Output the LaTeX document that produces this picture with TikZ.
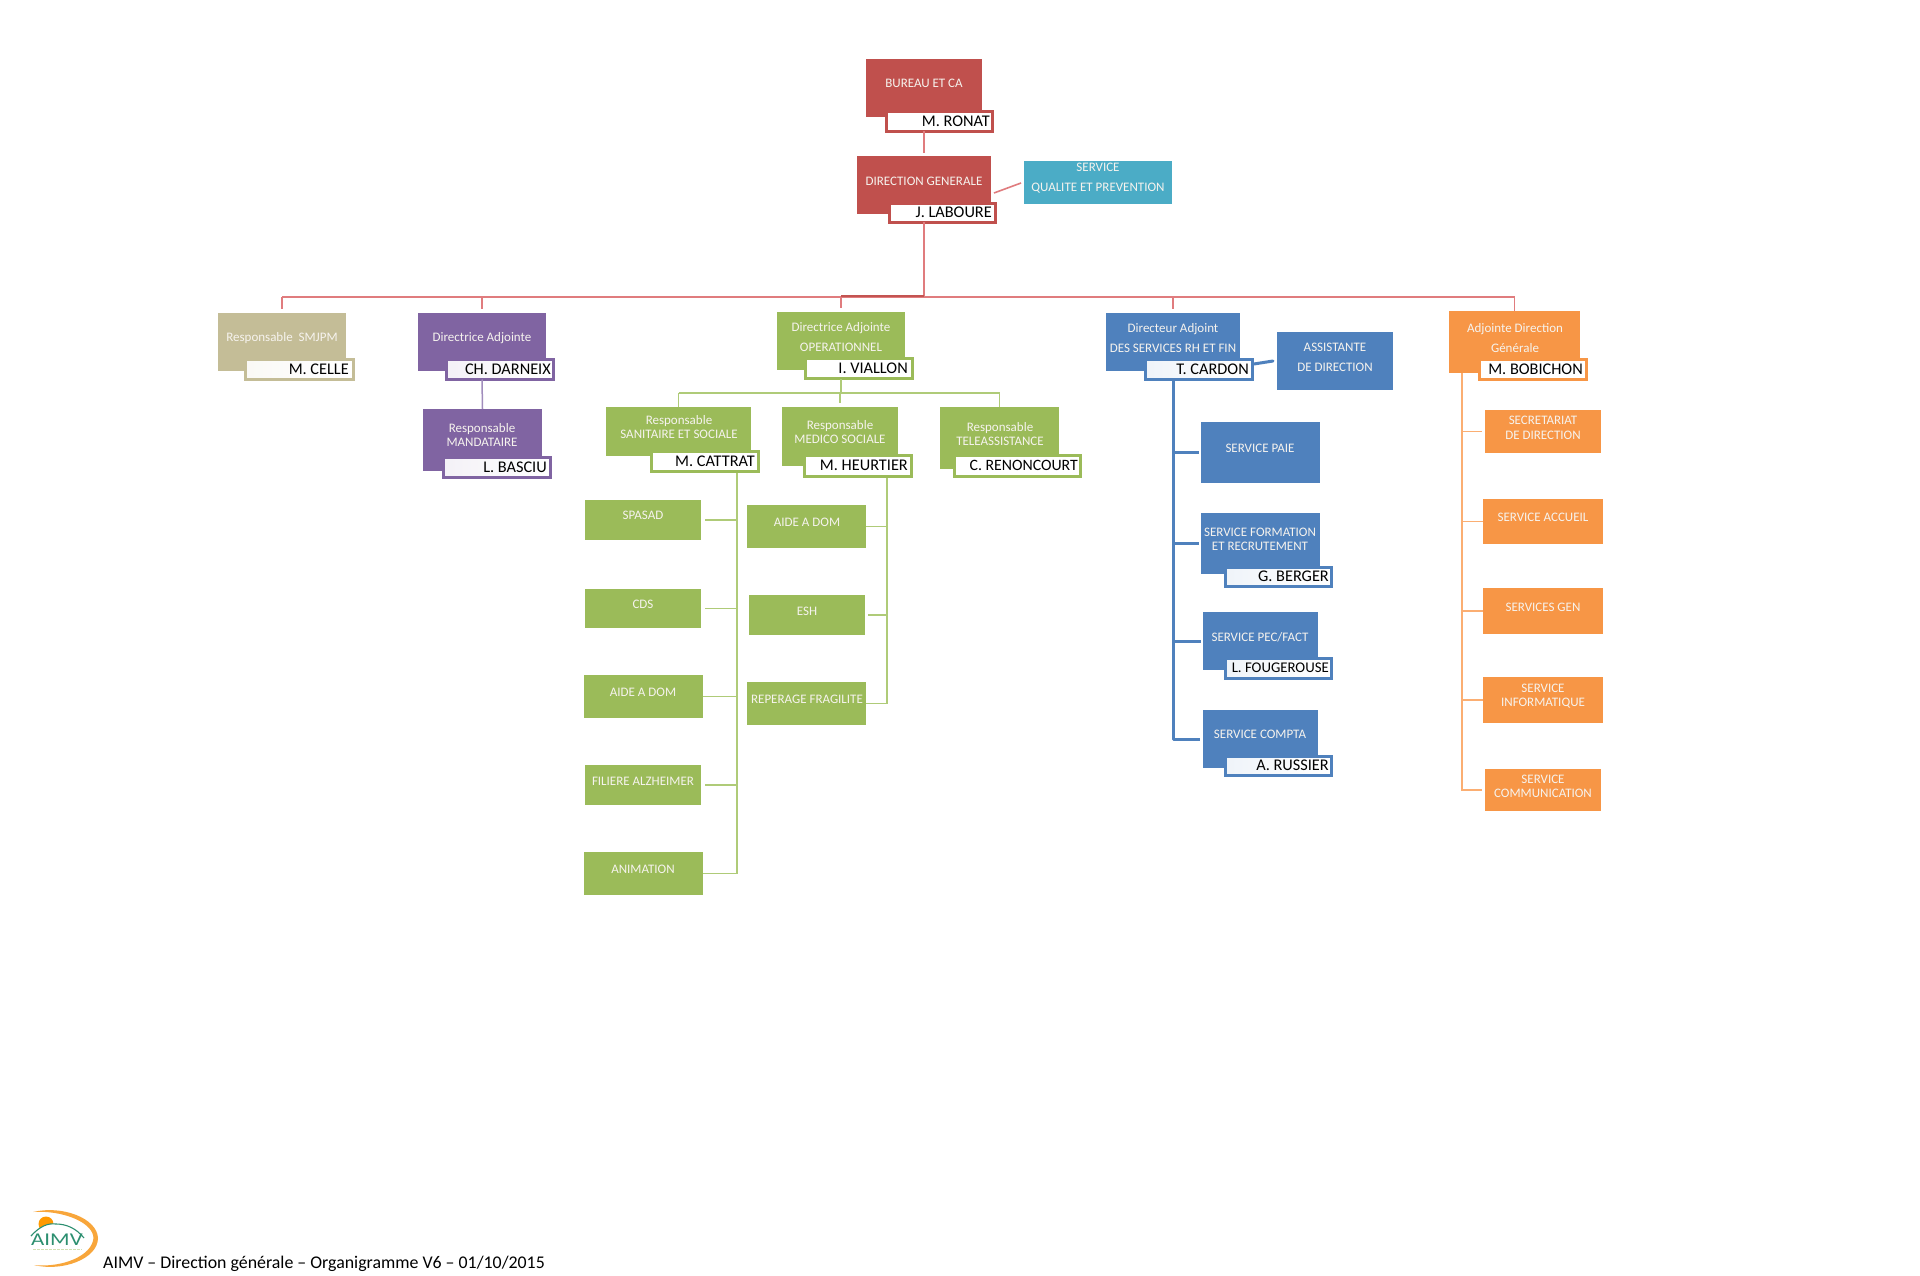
\documentclass[tikz,border=0pt]{standalone}
\usepackage{fontspec}
\setmainfont{Carlito}
\usetikzlibrary{calc}
\definecolor{cred}{HTML}{C0504D}
\definecolor{cteal}{HTML}{4BACC6}
\definecolor{ctan}{HTML}{C4BD97}
\definecolor{cpurple}{HTML}{8064A2}
\definecolor{cgreen}{HTML}{9BBB59}
\definecolor{cblue}{HTML}{4F81BD}
\definecolor{corange}{HTML}{F79646}
\definecolor{lred}{HTML}{E07C7E}
\definecolor{lgreen}{HTML}{AFCB78}
\definecolor{lorange}{HTML}{FBAE72}
\definecolor{lpurple}{HTML}{A08CBC}
\definecolor{txt}{HTML}{F6F3EE}
\definecolor{logog}{HTML}{2C8F70}
\tikzset{
  x=1pt,y=-1pt,
  boxs/.style={fill=#1,draw=none,inner sep=0pt,outer sep=0pt},
  labs/.style={text=txt,font=\fontsize{13}{14.5}\selectfont,align=center,inner sep=0pt,yshift=-0.2pt},
  nameb/.style={draw=#1,line width=3pt,fill=white,inner sep=0pt,outer sep=0pt},
  tintb/.style={draw=#1,line width=3pt,left color=#1!9!white,right color=white,inner sep=0pt,outer sep=0pt},
  namet/.style={text=black,font=\fontsize{16.3}{18}\selectfont,inner sep=0pt,anchor=east},
  redl/.style={draw=lred,line width=1.6pt},
  grnl/.style={draw=lgreen,line width=1.5pt},
  orgl/.style={draw=lorange,line width=1.5pt},
  purl/.style={draw=lpurple,line width=1.5pt},
  blul/.style={draw=cblue,line width=3pt},
}
% name, colour, x0,y0,x1,y1, text cx, text cy, text
\newcommand\bxn[9]{%
  \node[boxs=#2,minimum width={(#5-#3)*1pt},minimum height={(#6-#4)*1pt}] (#1) at ({(#3+#5)/2},{(#4+#6)/2}) {};
  \node[labs] (#1-t) at (#7,#8) {#9};}
% name, style, colour, x0,y0,x1,y1, right of text
\newcommand\nmb[9]{%
  \node[#2=#3,minimum width={(#6-#4-3)*1pt},minimum height={(#7-#5-3)*1pt}] (#1) at ({(#4+#6)/2},{(#5+#7)/2}) {};
  \node[namet] (#1-t) at (#8,{(#5+#7)/2-0.5}) {#9};}
\begin{document}
\begin{tikzpicture}
\useasboundingbox (0,0) rectangle (1920,1276);
\fill[white] (0,0) rectangle (1920,1276);

% coordinates for free ends
\coordinate (bus) at (924,297);
\coordinate (gbus) at (841,393);
\coordinate (vc) at (737,473);
\coordinate (vh) at (887,478);
\coordinate (ov) at (1462,373);
\coordinate (qa) at (994,193);
\coordinate (qb) at (1021,183);
\coordinate (aa) at (1254,364);
\coordinate (ab) at (1273,361);

% boxes
\bxn{bureau}{cred}{866}{59}{982}{117}{924}{83}{BUREAU ET CA}
\bxn{dg}{cred}{857}{156}{991}{214}{924}{181}{DIRECTION GENERALE}
\bxn{qual}{cteal}{1024}{161}{1172}{204}{1098}{178}{SERVICE\\[5.5pt]QUALITE ET PREVENTION}
\bxn{smjpm}{ctan}{218}{313}{346}{371}{282}{338}{Responsable\ \ SMJPM}
\bxn{darneix}{cpurple}{418}{313}{546}{371}{482}{338}{Directrice Adjointe}
\bxn{mand}{cpurple}{423}{409}{542}{471}{482}{435}{Responsable\\MANDATAIRE}
\bxn{viallon}{cgreen}{777}{312}{905}{370}{841}{337}{Directrice Adjointe\\[5.5pt]OPERATIONNEL}
\bxn{cattrat}{cgreen}{606}{407}{751}{456}{679}{427}{Responsable\\SANITAIRE ET SOCIALE}
\bxn{heurtier}{cgreen}{782}{407}{898}{466}{840}{432}{Responsable\\MEDICO SOCIALE}
\bxn{renon}{cgreen}{940}{407}{1059}{469}{1000}{434}{Responsable\\TELEASSISTANCE}
\bxn{spasad}{cgreen}{585}{500}{701}{540}{643}{515}{SPASAD}
\bxn{cds}{cgreen}{585}{589}{701}{628}{643}{604}{CDS}
\bxn{aidel}{cgreen}{584}{675}{703}{718}{643}{692}{AIDE A DOM}
\bxn{fil}{cgreen}{585}{765}{701}{805}{643}{781}{FILIERE ALZHEIMER}
\bxn{anim}{cgreen}{584}{852}{703}{895}{643}{869}{ANIMATION}
\bxn{aider}{cgreen}{747}{505}{866}{548}{807}{522}{AIDE A DOM}
\bxn{esh}{cgreen}{749}{595}{865}{635}{807}{611}{ESH}
\bxn{rep}{cgreen}{747}{682}{866}{725}{807}{699}{REPERAGE FRAGILITE}
\bxn{cardon}{cblue}{1106}{313}{1240}{371}{1173}{338}{Directeur Adjoint\\[5.5pt]DES SERVICES RH ET FIN}
\bxn{assist}{cblue}{1277}{332}{1393}{390}{1335}{357}{ASSISTANTE\\[5.5pt]DE DIRECTION}
\bxn{paie}{cblue}{1201}{422}{1320}{483}{1260}{448}{SERVICE PAIE}
\bxn{form}{cblue}{1201}{513}{1320}{574}{1260}{539}{SERVICE FORMATION\\ET RECRUTEMENT}
\bxn{pec}{cblue}{1203}{612}{1318}{670}{1260}{637}{SERVICE PEC/FACT}
\bxn{compta}{cblue}{1203}{710}{1318}{768}{1260}{734}{SERVICE COMPTA}
\bxn{bob}{corange}{1449}{311}{1580}{373}{1515}{338}{Adjointe Direction\\[5.5pt]Générale}
\bxn{secr}{corange}{1485}{410}{1601}{453}{1543}{427.5}{SECRETARIAT\\DE DIRECTION}
\bxn{acc}{corange}{1483}{499}{1603}{544}{1543}{517}{SERVICE ACCUEIL}
\bxn{gen}{corange}{1483}{588}{1603}{634}{1543}{607}{SERVICES GEN}
\bxn{info}{corange}{1483}{677}{1603}{723}{1543}{696}{SERVICE\\INFORMATIQUE}
\bxn{comm}{corange}{1485}{769}{1601}{811}{1543}{786}{SERVICE\\COMMUNICATION}

% name boxes
\nmb{ronat}{nameb}{cred}{885}{110}{994}{133}{990}{M. RONAT}
\nmb{laboure}{nameb}{cred}{888}{202}{997}{224}{992}{J. LABOURE}
\nmb{celle}{tintb}{ctan}{244}{358}{355}{381}{349}{M. CELLE}
\nmb{ndarneix}{tintb}{cpurple}{445}{358}{555}{381}{551}{CH. DARNEIX}
\nmb{basciu}{tintb}{cpurple}{442}{456}{552}{479}{547}{L. BASCIU}
\nmb{nviallon}{nameb}{cgreen}{804}{357}{914}{380}{908}{I. VIALLON}
\nmb{ncattrat}{nameb}{cgreen}{650}{450}{760}{473}{755}{M. CATTRAT}
\nmb{nheurtier}{nameb}{cgreen}{803}{454}{913}{478}{908}{M. HEURTIER}
\nmb{nrenon}{nameb}{cgreen}{953}{454}{1082}{478}{1078}{{\fontsize{15.8}{18}\selectfont C. RENONCOURT}}
\nmb{ncardon}{tintb}{cblue}{1144}{358}{1254}{381}{1249}{T. CARDON}
\nmb{berger}{tintb}{cblue}{1224}{566}{1333}{588}{1329}{G. BERGER}
\nmb{foug}{tintb}{cblue}{1224}{657}{1333}{680}{1329}{{\fontsize{14.8}{18}\selectfont L. FOUGEROUSE}}
\nmb{russier}{tintb}{cblue}{1224}{755}{1333}{777}{1329}{A. RUSSIER}
\nmb{nbob}{nameb}{corange}{1478}{358}{1588}{381}{1583}{M. BOBICHON}

% red connectors
\draw[redl,shorten >=3pt] (bureau.south |- ronat.south) -- (dg.north);
\draw[redl] (qa) -- (qb);
\draw[redl] (dg.south |- laboure.south) -- (bus);
\draw[redl] (smjpm.north |- bus) -- (bob.north |- bus);
\draw[draw=cred!92!lred,line width=2pt] (bus) ++(0,-1) -- ($(viallon.north |- bus)+(0,-1)$);
\foreach \n in {smjpm,darneix,viallon,cardon}
  \draw[redl,shorten >=4pt] (\n.north |- bus) -- (\n.north);
\draw[redl] (bob.north |- bus) -- (bob.north);
\draw[purl] (darneix.north |- ndarneix.south) -- (mand.north);

% green connectors
\draw[grnl] (viallon.south |- nviallon.south) -- (gbus);
\draw[grnl] (cattrat.north |- gbus) -- (renon.north |- gbus);
\draw[grnl] (cattrat.north |- gbus) -- (cattrat.north);
\draw[grnl,shorten >=4pt] (heurtier.north |- gbus) -- (heurtier.north);
\draw[grnl] (renon.north |- gbus) -- (renon.north);
\draw[grnl] (vc) |- (anim.east);
\foreach \n in {spasad,cds,fil}
  \draw[grnl,shorten >=4pt] (vc |- \n.east) -- (\n.east);
\draw[grnl] (vc |- aidel.east) -- (aidel.east);
\draw[grnl] (vh) |- (rep.east);
\draw[grnl] (vh |- aider.east) -- (aider.east);
\draw[grnl,shorten >=3pt] (vh |- esh.east) -- (esh.east);

% blue connectors
\draw[blul,line cap=round] (aa) -- (ab);
\draw[blul,line join=round] (cardon.south |- ncardon.south) |- ($(compta.west)+(-3,0)$);
\foreach \n in {paie,form,pec}
  \draw[blul,shorten >=2pt] (cardon.south |- \n.west) -- (\n.west);

% orange connectors
\draw[orgl] (ov) |- ($(comm.west)+(-3,0)$);
\foreach \n in {secr,comm}
  \draw[orgl,shorten >=3pt] (ov |- \n.west) -- (\n.west);
\foreach \n in {acc,gen,info}
  \draw[orgl] (ov |- \n.west) -- (\n.west);

% logo
\fill[corange!85!yellow] (33,1212) .. controls (62,1205) and (97,1218) .. (98,1238)
  .. controls (98,1259) and (62,1272) .. (34,1265)
  .. controls (62,1268) and (92,1256) .. (93.5,1238)
  .. controls (93,1222) and (62,1210) .. (33,1212) -- cycle;
\fill[orange!80!yellow] (46,1224) circle (7.5);
\fill[white] (31,1236) .. controls (40,1226) and (48,1223) .. (56,1224)
  .. controls (66,1224) and (76,1228) .. (84,1238) -- (84,1232) -- (30,1238) -- cycle;
\draw[logog,line width=1.1pt] (31,1236) .. controls (40,1226) and (48,1223) .. (56,1224)
  .. controls (66,1224) and (76,1228) .. (84,1238);
\node[text=logog,font=\fontsize{18}{18}\selectfont,inner sep=0pt] (aimv) at (57,1240) {\scalebox{1.27}[1]{AIMV}};
\draw[cgreen!45!white,line width=1.5pt,dash pattern=on 3pt off 1pt] (33,1249.5) -- (82,1249.5);

% footer
\node[text=black,font=\fontsize{17.85}{20}\selectfont,inner sep=0pt,anchor=west] (foot) at (103,1263.5)
  {AIMV – Direction générale – Organigramme V6 – 01/10/2015};
\end{tikzpicture}
\end{document}
